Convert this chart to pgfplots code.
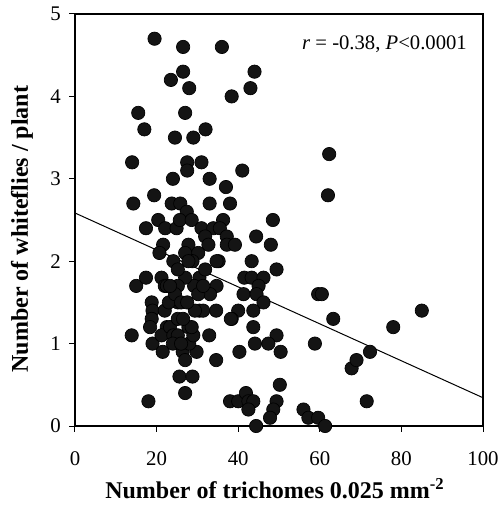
\documentclass[border=0pt]{standalone}
\usepackage{pgfplots}
\pgfplotsset{compat=1.18}
\usepackage{fontspec}
\setmainfont{Liberation Serif}
\begin{document}
\begin{tikzpicture}
\begin{axis}[
  scale only axis,
  width=244.8pt, height=247.2pt,
  xmin=0, xmax=100, ymin=0, ymax=5,
  xtick={0,20,40,60,80,100},
  ytick={0,1,2,3,4,5},
  tick pos=left,
  tick align=outside,
  major tick length=3.5pt,
  axis line style={line width=0.7pt},
  tick style={line width=0.6pt, black},
  /pgf/number format/assume math mode=true,
  tick label style={font=\fontsize{12.5}{14}\selectfont},
  xticklabel style={yshift=-8.3pt},
  yticklabel style={xshift=-1.5pt},
  xlabel={\textbf{Number of trichomes 0.025 mm\textsuperscript{-2}}},
  ylabel={\textbf{Number of whiteflies / plant}},
  label style={font=\fontsize{14.4}{16}\selectfont},
  x label style={at={(axis description cs:0.49,0)}, anchor=base, yshift=-43.2pt},
  y label style={at={(axis description cs:0,0.478)}, anchor=base, yshift=28.2pt},
  clip=false,
]
\addplot[only marks, mark=*, mark size=4pt, black, mark options={fill=black!92}] coordinates {
(19.5,4.7)(26.5,4.6)(36,4.6)(26.5,4.3)(23.5,4.2)(28,4.1)(38.4,4.0)(44,4.3)(43,4.1)
(15.5,3.8)(27,3.8)(17,3.6)(24.5,3.5)(29,3.5)(32,3.6)(14,3.2)(27.5,3.2)(31,3.2)
(27.5,3.1)(41,3.1)(24,3.0)(33,3.0)(37,2.9)(62.3,3.3)(62,2.8)(14.3,2.7)(19.4,2.8)
(23.7,2.7)(25.8,2.7)(27.4,2.6)(33,2.7)(38,2.7)(17.4,2.4)(20.4,2.5)(22.1,2.4)
(24.9,2.4)(25.7,2.5)(28.6,2.5)(31,2.4)(33.9,2.4)(36.3,2.5)(35.5,2.4)(37.2,2.3)
(37.2,2.2)(39.2,2.2)(44.4,2.3)(48.5,2.5)(48,2.2)(31.9,2.3)(32.7,2.2)(21.6,2.2)
(20.7,2.1)(27.8,2.2)(27,2.1)(30.2,2.1)(24.1,2.0)(28.8,2.0)(35.2,2.0)(43.3,2.0)
(49.4,1.9)(41.5,1.8)(43.3,1.8)(46.2,1.8)(45,1.7)(41.3,1.6)(44.5,1.6)(46.2,1.5)
(40,1.4)(43.7,1.4)(38.4,1.3)(43.7,1.2)(49.4,1.1)(44.1,1.0)(47.4,1.0)(50.4,0.9)
(40.3,0.9)(59.6,1.6)(60.5,1.6)(63.3,1.3)(58.8,1.0)(67.8,0.7)(69,0.8)(72.3,0.9)
(78,1.2)(85,1.4)(71.5,0.3)(56,0.2)(57.2,0.1)(59.6,0.1)(61.3,0.0)(50.2,0.5)
(49.4,0.3)(48.6,0.2)(47.8,0.1)(44.4,0.0)(38,0.3)(40,0.3)(41.9,0.4)(42.5,0.3)
(43.7,0.3)(42.5,0.2)(13.9,1.1)(18,0.3)(15,1.7)(17.4,1.8)(18.8,1.5)(19,1.4)
(18.8,1.3)(18.4,1.2)(19,1.0)(21.5,0.9)(25.6,0.6)(28.8,0.6)(27,0.4)(32.9,1.1)
(34.6,0.8)(26.4,0.9)(29.8,0.9)(27,0.8)(28,1.0)(34.6,1.4)(30.5,1.4)(31.4,1.4)
(29.4,1.4)(30.5,1.8)(29.2,1.7)(21.2,1.8)(22,1.7)(22.5,1.7)(27.8,2.0)(31.9,1.9)
(34.7,2.0)(27,1.8)(34.7,1.7)(33.1,1.6)(30.2,1.6)(31.4,1.7)(22,1.4)(22.5,1.2)
(21.2,1.1)(27.8,1.2)(29,1.1)(28.6,1.2)(23.3,1.2)(24.1,1.1)(25.2,1.9)(25.2,1.7)
(25.2,1.5)(25.2,1.3)(25.2,1.1)(23,1.5)(24.5,1.6)(26,1.5)(26.5,1.3)(27.5,1.5)
(24,1.0)(26,1.0)(23.3,1.7)(38.2,1.3)
};
\addplot[black, line width=0.6pt] coordinates {(0,2.585)(100,0.343)};
\node[anchor=base east, inner sep=0pt, font=\fontsize{12.4}{14}\selectfont] at (axis cs:96.1,4.575) {\textit{r} = -0.38, \textit{P}<0.0001};
\end{axis}
\pgfresetboundingbox
\path[use as bounding box] (current axis.south west) ++(-45pt,-47.4pt) rectangle ++(299.4pt,303pt);
\end{tikzpicture}
\end{document}
